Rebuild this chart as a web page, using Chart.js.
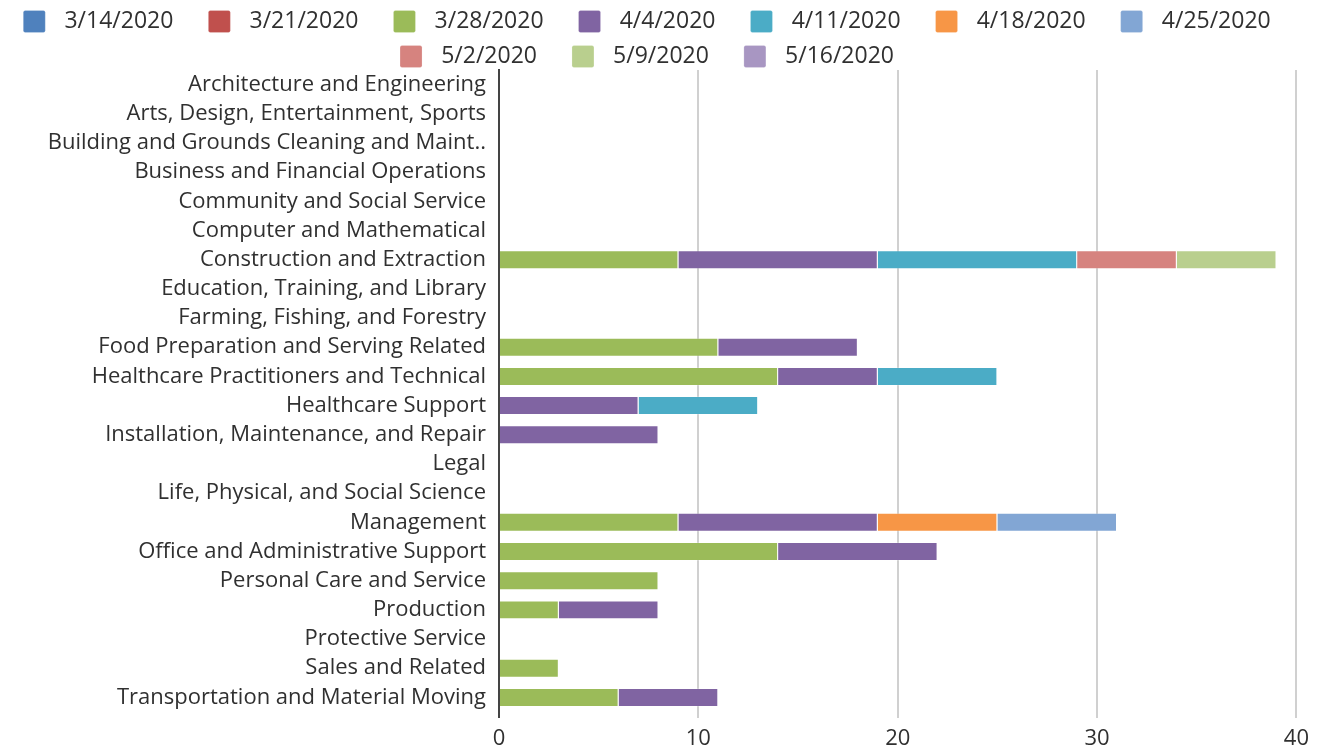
<!DOCTYPE html>
<html>
<head>
<meta charset="utf-8">
<script src="https://cdn.jsdelivr.net/npm/chart.js@4/dist/chart.umd.min.js"></script>
<style>
  html, body { margin: 0; padding: 0; background: #fff; }
  #wrap { width: 1317px; height: 754px; }
</style>
</head>
<body>
<div id="wrap"><canvas id="chart" width="1317" height="754"></canvas></div>
<script>
// ─── DATOS ────────────────────────────────────────────────────────────────
const categories = [
  "Architecture and Engineering",
  "Arts, Design, Entertainment, Sports",
  "Building and Grounds Cleaning and Maint..",
  "Business and Financial Operations",
  "Community and Social Service",
  "Computer and Mathematical",
  "Construction and Extraction",
  "Education, Training, and Library",
  "Farming, Fishing, and Forestry",
  "Food Preparation and Serving Related",
  "Healthcare Practitioners and Technical",
  "Healthcare Support",
  "Installation, Maintenance, and Repair",
  "Legal",
  "Life, Physical, and Social Science",
  "Management",
  "Office and Administrative Support",
  "Personal Care and Service",
  "Production",
  "Protective Service",
  "Sales and Related",
  "Transportation and Material Moving"
];

const weeks = ["3/14/2020","3/21/2020","3/28/2020","4/4/2020","4/11/2020",
               "4/18/2020","4/25/2020","5/2/2020","5/9/2020","5/16/2020"];

const w0314 = [0,0,0,0,0,0, 0,0,0, 0, 0,0,0,0,0, 0, 0,0,0,0,0,0];
const w0321 = [0,0,0,0,0,0, 0,0,0, 0, 0,0,0,0,0, 0, 0,0,0,0,0,0];
const w0328 = [0,0,0,0,0,0, 9,0,0,11,14,0,0,0,0, 9,14,8,3,0,3,6];
const w0404 = [0,0,0,0,0,0,10,0,0, 7, 5,7,8,0,0,10, 8,0,5,0,0,5];
const w0411 = [0,0,0,0,0,0,10,0,0, 0, 6,6,0,0,0, 0, 0,0,0,0,0,0];
const w0418 = [0,0,0,0,0,0, 0,0,0, 0, 0,0,0,0,0, 6, 0,0,0,0,0,0];
const w0425 = [0,0,0,0,0,0, 0,0,0, 0, 0,0,0,0,0, 6, 0,0,0,0,0,0];
const w0502 = [0,0,0,0,0,0, 5,0,0, 0, 0,0,0,0,0, 0, 0,0,0,0,0,0];
const w0509 = [0,0,0,0,0,0, 5,0,0, 0, 0,0,0,0,0, 0, 0,0,0,0,0,0];
const w0516 = [0,0,0,0,0,0, 0,0,0, 0, 0,0,0,0,0, 0, 0,0,0,0,0,0];

const xTicks = [0, 10, 20, 30, 40];

// ─── ESTILO ───────────────────────────────────────────────────────────────
const colores = ["#4f81bd","#c0504d","#9bbb59","#8064a2","#4bacc6",
                 "#f79646","#82a6d4","#d6837f","#b9cf8e","#a896c2"];
const fuente = "'Open Sans', 'DejaVu Sans', sans-serif";
const texto = "#303030";

const series = [w0314, w0321, w0328, w0404, w0411, w0418, w0425, w0502, w0509, w0516];

const datasets = series.map((data, i) => ({
  label: weeks[i],
  data,
  backgroundColor: colores[i],
  borderColor: "rgba(255,255,255,0.2)",
  borderWidth: 1,
  categoryPercentage: 1,
  barPercentage: 0.65
}));

new Chart(document.getElementById("chart"), {
  type: "bar",
  data: { labels: categories, datasets },
  options: {
    indexAxis: "y",
    responsive: false,
    animation: false,
    layout: { padding: { top: -2, right: 0, left: 0, bottom: 0 } },
    plugins: {
      tooltip: { enabled: false },
      legend: {
        position: "top",
        maxHeight: 72,
        labels: {
          color: texto,
          font: { family: fuente, size: 23 },
          boxWidth: 22,
          boxHeight: 22,
          padding: 12,
          useBorderRadius: true,
          borderRadius: 2,
          // espacio extra alrededor del texto, como en la leyenda original
          generateLabels(chart) {
            const items = Chart.defaults.plugins.legend.labels.generateLabels(chart);
            items.forEach(it => { it.text = "\u2004" + it.text + "\u2002\u2002"; });
            return items;
          }
        }
      }
    },
    scales: {
      x: {
        stacked: true,
        min: 0,
        max: 40,
        afterBuildTicks: (s) => { s.ticks = xTicks.map(v => ({ value: v })); },
        afterFit: (s) => { s.height = 42; },
        ticks: {
          color: texto,
          font: { family: fuente, size: 22 },
          padding: 8
        },
        grid: {
          color: (c) => c.index === 0 ? "#444444" : "#d0d0d0",
          lineWidth: 2,
          drawTicks: true,
          tickLength: 6
        },
        border: { display: false }
      },
      y: {
        stacked: true,
        afterFit: (s) => { s.width = 499; },
        ticks: {
          color: texto,
          font: { family: fuente, size: 22 },
          padding: 13,
          autoSkip: false
        },
        grid: { display: false, drawTicks: false },
        border: { display: true, color: "#444444", width: 2 }
      },
      // margen derecho del área de trazado
      margen: {
        type: "category",
        position: "right",
        afterFit: (s) => { s.width = 20; },
        ticks: { display: false },
        grid: { display: false, drawTicks: false },
        border: { display: false }
      }
    }
  }
});
</script>
</body>
</html>
